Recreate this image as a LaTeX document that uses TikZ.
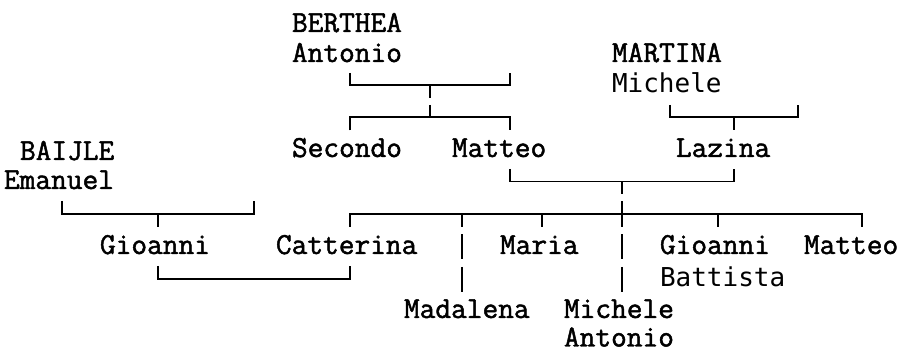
\documentclass[tikz,border=0pt]{standalone}
\usepackage{fontspec}
\newfontfamily\sansmono{DejaVu Sans Mono}
\newfontfamily\serifmono{Latin Modern Mono}[FakeBold=1.6]
\begin{document}
\begin{tikzpicture}[x=1pt,y=-1pt,
  link/.style={line width=1.6pt},
  sname/.style={anchor=base west, inner sep=0pt, outer sep=0pt, font=\serifmono\fontsize{30.5}{31}\selectfont},
  ssans/.style={anchor=base west, inner sep=0pt, outer sep=0pt, font=\sansmono\fontsize{26}{27}\selectfont}]
\useasboundingbox (0,0) rectangle (903,352);
% names
\node[sname] (berthea) at (292,32) {BERTHEA};
\node[sname] (antonioA) at (292,62) {Antonio};
\node[sname] (martina) at (612,62) {MARTINA};
\node[ssans] (micheleM) at (612,93) {Michele};
\node[sname] (baijle) at (20,160) {BAIJLE};
\node[sname] (emanuel) at (4,189) {Emanuel};
\node[sname] (secondo) at (292,157) {Secondo};
\node[sname] (matteoA) at (452,157) {Matteo};
\node[sname] (lazina) at (676,157) {Lazina};
\node[sname] (gioanniB) at (100,254) {Gioanni};
\node[sname] (catterina) at (276,254) {Catterina};
\node[sname] (maria) at (500,254) {Maria};
\node[sname] (gioanniG) at (660,254) {Gioanni};
\node[ssans] (battista) at (660,287) {Battista};
\node[sname] (matteoB) at (804,254) {Matteo};
\node[sname] (madalena) at (404,318) {Madalena};
\node[sname] (micheleB) at (564,318) {Michele};
\node[sname] (antonioB) at (564,346.5) {Antonio};
% Antonio's bar and children bar
\draw[link] (350,73) -- (350,85) -- (510,85) -- (510,73);
\draw[link] (430,85) -- (430,98);
\draw[link] (350,130.5) -- (350,117.3) -- (510,117.3) -- (510,130.5);
\draw[link] (430,105) -- (430,117.3);
% Michele's bar
\draw[link] (670,105) -- (670,117.3) -- (798,117.3) -- (798,105);
\draw[link] (734,117.3) -- (734,130.5);
% Matteo + Lazina
\draw[link] (510,169) -- (510,181.7) -- (734,181.7) -- (734,169);
\draw[link] (622,181.7) -- (622,194);
% children
\draw[link] (350,227) -- (350,213.8) -- (862,213.8) -- (862,227);
\foreach \x in {462,542,718} \draw[link] (\x,213.8) -- (\x,227);
\draw[link] (622,201.5) -- (622,227);
\foreach \x in {462,622} {
  \draw[link] (\x,234.5) -- (\x,259.5);
  \draw[link] (\x,267) -- (\x,292);
}
% Emanuel's bar
\draw[link] (62,201) -- (62,213.8) -- (254,213.8) -- (254,201);
\draw[link] (158,213.8) -- (158,227);
% Gioanni + Catterina
\draw[link] (158,266) -- (158,279) -- (350,279) -- (350,266);
\end{tikzpicture}
\end{document}
